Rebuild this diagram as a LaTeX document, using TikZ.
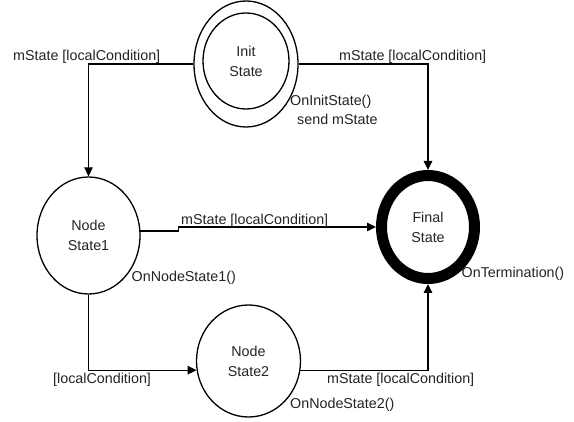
\documentclass[tikz,border=0pt]{standalone}
\usepackage{fontspec}
\setmainfont{Liberation Sans}
\usetikzlibrary{arrows.meta,shapes.geometric,calc}

\definecolor{ink}{RGB}{35,35,35}

\tikzset{
  state/.style={draw=black, ellipse, inner sep=0pt, line width=1.3pt,
    align=center, font=\fontsize{14.3}{20}\selectfont, text=ink},
  finalstate/.style={state, line width=11pt},
  flow/.style={draw=black, line width=1.3pt,
    -{Triangle[length=9pt,width=8.5pt]}},
  plain/.style={draw=black, line width=1.3pt},
  lbl/.style={anchor=base west, inner sep=0pt, text=ink,
    font=\fontsize{14.3}{17}\selectfont}
}

\begin{document}
\begin{tikzpicture}[x=1pt,y=-1pt]
  \useasboundingbox (0,0) rectangle (574,422);

  % states
  \node[state, minimum width=104pt, minimum height=126pt] (initO) at (246,64) {};
  \node[state, minimum width=86pt, minimum height=96pt] (initI) at (246,61) {Init\\State};
  \node[state, minimum width=103pt, minimum height=117pt] (n1) at (88.5,235.5) {Node\\State1};
  \node[finalstate, minimum width=93pt, minimum height=103pt] (fin) at (428,227) {Final\\State};
  \node[state, minimum width=104pt, minimum height=112pt] (n2) at (248.5,361) {Node\\State2};

  % transitions
  \draw[flow] (initO.west) -| (n1.north);
  \draw[flow] (initO.east) -| (fin.north);
  \coordinate (stepA) at ([xshift=38pt]n1.5);
  \draw[flow] (n1.5) -- (stepA) |- (fin.west);
  \draw[flow] (n1.south) |- (n2.190);
  \draw[flow] (n2.-10) -| (fin.south);

  % transition labels
  \node[lbl] (t1) at (13,61) {mState [localCondition]};
  \node[lbl] (t2) at (339,61) {mState [localCondition]};
  \node[lbl] (t3) at (181,225) {mState [localCondition]};
  \node[lbl] (t4) at (53,384) {[localCondition]};
  \node[lbl] (t5) at (327,384) {mState [localCondition]};

  % state actions
  \node[lbl] (a1) at (290,105.5) {OnInitState()};
  \node[lbl] (a2) at (297,125) {send mState};
  \node[lbl] (a3) at (131.5,282) {OnNodeState1()};
  \node[lbl] (a4) at (461.5,278) {OnTermination()};
  \node[lbl] (a5) at (290,409) {OnNodeState2()};
\end{tikzpicture}
\end{document}
